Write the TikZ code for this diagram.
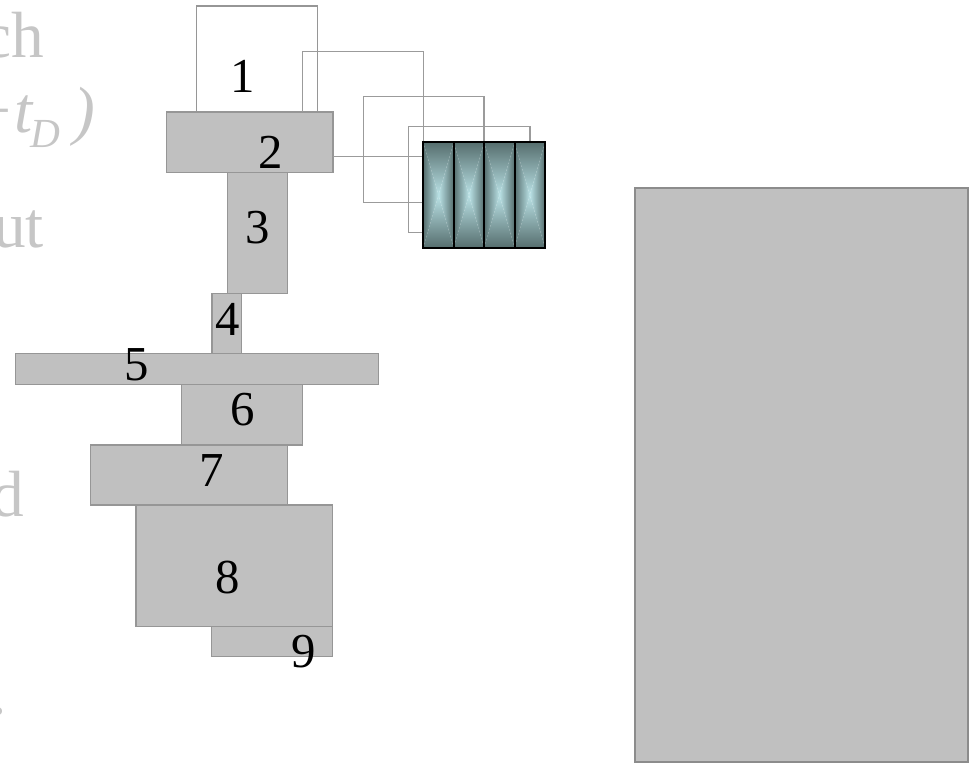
\documentclass[tikz,border=0pt]{standalone}
\usepackage{fontspec}
\setmainfont{Liberation Serif}
\definecolor{boxfill}{RGB}{192,192,192}
\definecolor{boxline}{RGB}{150,150,150}
\definecolor{wirec}{RGB}{155,155,155}
\definecolor{faint}{RGB}{198,198,198}
\definecolor{cdark}{RGB}{86,110,110}
\definecolor{clight}{RGB}{186,226,230}
\definecolor{bigline}{RGB}{140,140,140}
\pgfdeclarelayer{front}
\pgfsetlayers{main,front}
\begin{document}
\begin{tikzpicture}[x=0.75pt,y=-0.75pt,
  pxsize/.style 2 args={minimum width={#1*0.75pt}, minimum height={#2*0.75pt}},
  block/.style={draw=boxline, fill=boxfill, line width=1.15pt, inner sep=0pt, outer sep=0pt},
  openblock/.style={draw=boxline, fill=white, line width=1.15pt, inner sep=0pt, outer sep=0pt},
  panel/.style={draw=bigline, fill=boxfill, line width=1.5pt, inner sep=0pt, outer sep=0pt},
  wire/.style={draw=wirec, line width=1.15pt},
  digit/.style={anchor=base, inner sep=0pt, outer sep=0pt, font=\fontsize{36.6}{40}\selectfont},
  bgtext/.style={inner sep=0pt, outer sep=0pt, text=faint, font=\fontsize{49}{55}\selectfont},
  cell/.style={draw=black, line width=1.5pt, inner sep=0pt, outer sep=0pt, pxsize={30.43}{105.4},
    path picture={
      \shade[top color=cdark, bottom color=cdark, middle color=clight]
        (path picture bounding box.north west) -- (path picture bounding box.north east)
          -- (path picture bounding box.center) -- cycle
        (path picture bounding box.south west) -- (path picture bounding box.south east)
          -- (path picture bounding box.center) -- cycle;
      \shade[left color=cdark, right color=cdark, middle color=clight]
        (path picture bounding box.north west) -- (path picture bounding box.center)
          -- (path picture bounding box.south west) -- cycle
        (path picture bounding box.north east) -- (path picture bounding box.center)
          -- (path picture bounding box.south east) -- cycle;
    }},
]
\useasboundingbox (0,0) rectangle (977,763);
\clip (0,0) rectangle (977,763);

% faded text running off the left edge
\node[bgtext, anchor=base east] (tch) at (44,58) {ch};
\node[bgtext, anchor=base east, font=\fontsize{49}{55}\selectfont\itshape] (tmt) at (33,133) {−t};
\node[bgtext, anchor=base west, font=\fontsize{31}{34}\selectfont\itshape] (tsd) at (31,147) {D};
\node[bgtext, anchor=base east, font=\fontsize{49}{55}\selectfont\itshape] (tpr) at (95,133) {)};
\node[bgtext, anchor=base east] (tut) at (44,247) {ut};
\node[bgtext, anchor=base east] (td) at (24,516) {d};
\node[bgtext, anchor=base west] (tdot) at (-9,714) {.};

% right-hand panel
\node[panel, pxsize={333.3}{574}] (big) at (801.65,474.7) {};

% stacked blocks
\node[openblock, pxsize={121}{106}]   (b1) at (257.2,59) {};
\node[block, pxsize={166.3}{60.3}]    (b2) at (249.85,142.15) {};
\node[block, pxsize={60}{121}]        (b3) at (257.7,232.8) {};
\node[block, pxsize={29.7}{60}]       (b4) at (226.85,323.3) {};
\node[block, pxsize={363.4}{31}]      (b5) at (197,368.8) {};
\node[block, pxsize={121}{60.7}]      (b6) at (242.2,414.65) {};
\node[block, pxsize={196.6}{60}]      (b7) at (189,475) {};
\node[block, pxsize={196.7}{121.3}]   (b8) at (234.35,565.65) {};
\node[block, pxsize={121}{30.4}]      (b9) at (272.2,641.5) {};

% shaded cell stack, kept above the wiring
\begin{pgfonlayer}{front}
\node[cell] (c1) at (438.5,195) {};
\node[cell, anchor=west] (c2) at (c1.east) {};
\node[cell, anchor=west] (c3) at (c2.east) {};
\node[cell, anchor=west] (c4) at (c3.east) {};
\end{pgfonlayer}

% wiring into the cell stack
\coordinate (kB)  at (302.7,51.7);
\coordinate (kCa) at (363.3,96.7);
\coordinate (kCb) at (363.3,202.5);
\coordinate (kDa) at (408.3,126.7);
\coordinate (kDb) at (408.3,232.5);
\coordinate (kE)  at (333,156.7);
\draw[wire] (b2.north -| kB) -- (kB) -| (c1.north west);
\draw[wire] (c3.north west) |- (kCa) -- (kCb) -- (c1.west |- kCb);
\draw[wire] (c4.north) |- (kDa) -- (kDb) -- (c1.west |- kDb);
\draw[wire] (b2.east |- kE) -- (c1.west |- kE);

% block numbers
\node[digit] (l1) at (242.5,93)  {1};
\node[digit] (l2) at (271,168)   {2};
\node[digit] (l3) at (257.5,243) {3};
\node[digit] (l4) at (228,335)   {4};
\node[digit] (l5) at (137,380)   {5};
\node[digit] (l6) at (243,425)   {6};
\node[digit] (l7) at (212,486.7) {7};
\node[digit] (l8) at (228,593)   {8};
\node[digit] (l9) at (303.5,667) {9};
\end{tikzpicture}
\end{document}
